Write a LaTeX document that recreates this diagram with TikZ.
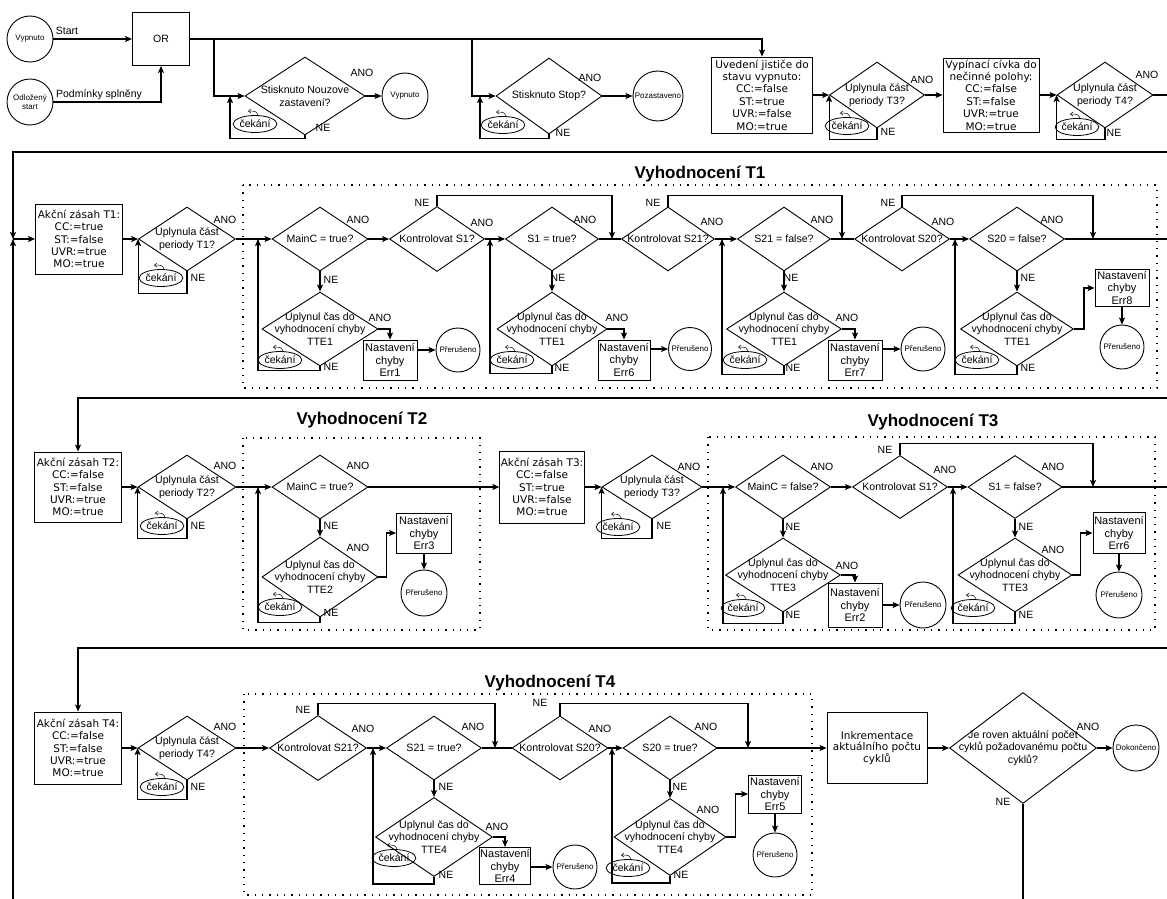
\documentclass[tikz,border=0pt]{standalone}
\usepackage{fontspec}
\setmainfont{Liberation Sans}
\newfontfamily\dvs{DejaVu Sans}
\usetikzlibrary{shapes.geometric,arrows.meta,calc}
\newcommand\Dia[6]{%
  \node[dia, minimum width=#4pt, minimum height=#5pt] (#1) at (#2,#3) {};
  \node[dtxt] (#1-t) at (#1.center) {#6};}
\newcommand\Cek[3]{%
  \node[cek] (#1) at (#2,#3) {čekání};
  \draw[line width=0.5pt, -{Straight Barb[length=2.5pt,width=4pt]}] ($(#1.north)+(3,0)$) .. controls ($(#1.north)+(1,-4)$) .. ($(#1.north)+(-7,-4)$);}
\begin{document}
\begin{tikzpicture}[x=1pt,y=-1pt,
 shp/.style={draw=black, line width=0.9pt},
 arr/.style={draw=black, line width=1.1pt, -{Stealth[length=7pt,width=6pt,inset=1.5pt]}},
 ln/.style={draw=black, line width=1.1pt},
 dia/.style={shp, diamond, inner sep=0pt},
 dtxt/.style={font=\fontsize{10.6}{12.5}\selectfont, align=center, inner sep=0pt},
 box/.style={shp, rectangle, inner sep=1pt, align=center, font=\dvs\fontsize{10.5}{12.4}\selectfont},
 ebox/.style={shp, rectangle, inner sep=1pt, align=center, font=\fontsize{11}{12.5}\selectfont},
 pbox/.style={shp, rectangle, inner sep=1pt, align=center, font=\fontsize{10.5}{12}\selectfont},
 circ/.style={shp, circle, inner sep=0pt, align=center, font=\fontsize{8}{9.5}\selectfont},
 lbl/.style={font=\fontsize{10.5}{12}\selectfont, inner sep=0pt},
 cek/.style={shp, line width=0.8pt, ellipse, minimum width=37pt, minimum height=17pt, inner sep=0pt, font=\fontsize{10.5}{12}\selectfont},
 grp/.style={draw=black, line width=1.3pt, dash pattern=on 1.3pt off 6pt},
 ttl/.style={font=\bfseries\fontsize{17}{20}\selectfont},
]
\useasboundingbox[fill=white] (0,0) rectangle (1167,899);

% ---------------- row 1 ----------------
\node[circ, minimum size=46pt] (vyp1) at (30,39) {Vypnuto};
\node[circ, minimum size=46pt] (odl) at (30,102) {Odložený\\start};
\node[pbox, minimum width=57pt, minimum height=53pt] (or) at (161,39) {OR};
\node[lbl] (lstart) at (67,31) {Start};
\node[lbl] (lpodm) at (99,95) {Podmínky splněny};
\Dia{nouz}{305}{96}{120}{78}{Stisknuto Nouzove\\zastavení?}
\node[lbl] (a_nouz) at (362,73) {ANO};
\node[lbl] (n_nouz) at (323,128) {NE};
\node[circ, minimum size=46pt] (vyp2) at (405,96) {Vypnuto};
\Cek{cek1}{255}{124}
\Dia{stop}{549}{96}{106}{76}{Stisknuto Stop?}
\node[lbl] (a_stop) at (590,78) {ANO};
\node[lbl] (n_stop) at (563,133) {NE};
\node[circ, minimum size=50pt] (poz) at (658,96) {Pozastaveno};
\Cek{cek2}{503}{125}
\node[box, minimum width=101pt, minimum height=76pt] (uved) at (762,95) {Uvedení jističe do\\stavu vypnuto:\\CC:=false\\ST:=true\\UVR:=false\\MO:=true};
\Dia{tt3}{877}{95}{95}{66}{Uplynula část\\periody T3?}
\node[lbl] (a_tt3) at (922,80) {ANO};
\node[lbl] (n_tt3) at (888,132) {NE};
\Cek{cek3}{847}{126}
\node[box, minimum width=96pt, minimum height=74pt] (vypc) at (991,95) {Vypínací cívka do\\nečinné polohy:\\CC:=false\\ST:=false\\UVR:=true\\MO:=true};
\Dia{tt4}{1105}{95}{96}{66}{Uplynula část\\periody T4?}
\node[lbl] (a_tt4) at (1147,75) {ANO};
\node[lbl] (n_tt4) at (1114,133) {NE};
\Cek{cek4}{1077}{127}

\coordinate (j1) at (214,39);
\coordinate (j2) at (472,39);
\coordinate (l1) at (230,96);
\coordinate (l2) at (480,96);
\coordinate (j0) at (13,239);

\draw[arr] (vyp1) -- (or);
\draw[arr] (odl.east) -| (or.south);
\draw[arr] (or.east) -| (uved.north);
\draw[arr] (j1) |- (nouz.west);
\draw[arr] (nouz.east) -- (vyp2.west);
\draw[arr] (nouz.south) -- ++(0,3) -| (l1);
\draw[arr] (j2) |- (stop.west);
\draw[arr] (stop.east) -- (poz.west);
\draw[arr] (stop.south) -- ++(0,4) -| (l2);
\draw[arr] (uved.east) -- (tt3.west);
\draw[arr] (tt3.south) -- ++(0,11) -| (tt3.west);
\draw[arr] (tt3.east) -- (vypc.west);
\draw[arr] (vypc.east) -- (tt4.west);
\draw[arr] (tt4.south) -- ++(0,11) -| (tt4.west);
\draw[arr] (tt4.east) -- (1180,95) |- (13,152) -- (j0);

% ---------------- row 2 ----------------
\node[box, minimum width=87pt, minimum height=70pt] (ak1) at (79,239) {Akční zásah T1:\\CC:=true\\ST:=false\\UVR:=true\\MO:=true};
\Dia{p1}{187}{239}{97}{64}{Uplynula část\\periody T1?}
\node[lbl] (a_p1) at (225,220) {ANO};
\node[lbl] (n_p1) at (198,278) {NE};
\Cek{cek5}{161}{278}
\draw[grp] (243,185) rectangle (1157,388);
\node[ttl] (t1) at (700,174) {Vyhodnocení T1};

\Dia{mc1}{320}{239}{96}{64}{MainC = true?}
\node[lbl] (a_mc1) at (358,220) {ANO};
\node[lbl] (n_mc1) at (331,280) {NE};
\Dia{te1}{320}{329}{116}{74}{Uplynul čas do\\vyhodnocení chyby\\TTE1}
\node[lbl] (a_te1) at (380,318) {ANO};
\node[lbl] (n_te1) at (331,367) {NE};
\node[ebox, minimum width=54pt, minimum height=40pt] (e1) at (390,360) {Nastavení\\chyby\\Err1};
\node[circ, minimum size=44pt] (pr1) at (458,350) {Přerušeno};
\Cek{cek6}{280}{360}

\Dia{ks1}{437}{239}{95}{65}{Kontrolovat S1?}
\node[lbl] (a_ks1) at (482,223) {ANO};
\node[lbl] (n_ks1) at (422,203) {NE};
\Dia{s1t}{552}{239}{93}{64}{S1 = true?}
\node[lbl] (a_s1t) at (585,220) {ANO};
\node[lbl] (n_s1t) at (558,278) {NE};
\Dia{te2}{552}{329}{110}{74}{Uplynul čas do\\vyhodnocení chyby\\TTE1}
\node[lbl] (a_te2) at (617,318) {ANO};
\node[lbl] (n_te2) at (562,368) {NE};
\node[ebox, minimum width=52pt, minimum height=40pt] (e6a) at (624,360) {Nastavení\\chyby\\Err6};
\node[circ, minimum size=43pt] (pr2) at (690,349) {Přerušeno};
\Cek{cek7}{512}{360}

\Dia{ks21}{668}{239}{93}{64}{Kontrolovat S21?}
\node[lbl] (n_ks21) at (653,203) {NE};
\node[lbl] (a_ks21) at (712,222) {ANO};
\Dia{s21f}{784}{239}{93}{64}{S21 = false?}
\node[lbl] (a_s21f) at (822,220) {ANO};
\node[lbl] (n_s21f) at (791,278) {NE};
\Dia{te3}{784}{329}{115}{74}{Uplynul čas do\\vyhodnocení chyby\\TTE1}
\node[lbl] (a_te3) at (847,318) {ANO};
\node[lbl] (n_te3) at (793,368) {NE};
\node[ebox, minimum width=54pt, minimum height=40pt] (e7) at (855,360) {Nastavení\\chyby\\Err7};
\node[circ, minimum size=44pt] (pr3) at (923,349) {Přerušeno};
\Cek{cek8}{745}{360}

\Dia{ks20}{902}{239}{95}{64}{Kontrolovat S20?}
\node[lbl] (n_ks20) at (888,203) {NE};
\node[lbl] (a_ks20) at (943,222) {ANO};
\Dia{s20f}{1017}{239}{95}{64}{S20 = false?}
\node[lbl] (a_s20f) at (1052,220) {ANO};
\node[lbl] (n_s20f) at (1028,278) {NE};
\Dia{te4}{1017}{329}{113}{74}{Uplynul čas do\\vyhodnocení chyby\\TTE1}
\node[lbl] (n_te4) at (1028,368) {NE};
\node[ebox, minimum width=54pt, minimum height=37pt] (e8) at (1122,288) {Nastavení\\chyby\\Err8};
\node[circ, minimum size=44pt] (pr4) at (1122,347) {Přerušeno};
\Cek{cek9}{977}{360}

\coordinate (lp1) at (258,239);
\coordinate (lp2) at (490,239);
\coordinate (lp3) at (722,239);
\coordinate (lp4) at (955,239);
\coordinate (jn1) at (612,239);
\coordinate (jn2) at (842,239);
\coordinate (jn3) at (1093,239);

\draw[arr] (j0) -- (ak1.west);
\draw[arr] (ak1.east) -- (p1.west);
\draw[arr] (p1.south) -- ++(0,22) -| (p1.west);
\draw[arr] (p1.east) -- (mc1.west);
\draw[arr] (mc1.south) -- (te1.north);
\draw[arr] (te1.east) -| (e1.north);
\draw[arr] (e1.east |- pr1.west) -- (pr1.west);
\draw[arr] (te1.south) -- ++(0,4) -| (lp1);
\draw[arr] (mc1.east) -- (ks1.west);
\draw[arr] (ks1.north) -- ++(0,-11) -| (jn1);
\draw[arr] (ks1.east) -- (s1t.west);
\draw[ln] (s1t.east) -- (ks21.west);
\draw[arr] (s1t.south) -- (te2.north);
\draw[arr] (te2.east) -| (e6a.north);
\draw[arr] (e6a.east |- pr2.west) -- (pr2.west);
\draw[arr] (te2.south) -- ++(0,7) -| (lp2);
\draw[arr] (ks21.north) -- ++(0,-11) -| (jn2);
\draw[arr] (ks21.east) -- (s21f.west);
\draw[ln] (s21f.east) -- (ks20.west);
\draw[arr] (s21f.south) -- (te3.north);
\draw[arr] (te3.east) -| (e7.north);
\draw[arr] (e7.east |- pr3.west) -- (pr3.west);
\draw[arr] (te3.south) -- ++(0,8) -| (lp3);
\draw[arr] (ks20.north) -- ++(0,-11) -| (jn3);
\draw[arr] (ks20.east) -- (s20f.west);
\draw[arr] (s20f.south) -- (te4.north);
\draw[arr] (te4.east) -- ++(10,0) |- (e8.west);
\draw[arr] (e8.south) -- (pr4.north);
\draw[arr] (te4.south) -- ++(0,8) -| (lp4);

% ---------------- row 3 ----------------
\node[box, minimum width=87pt, minimum height=70pt] (ak2) at (78,487) {Akční zásah T2:\\CC:=false\\ST:=false\\UVR:=true\\MO:=true};
\Dia{p2}{187}{487}{98}{64}{Uplynula část\\periody T2?}
\node[lbl] (a_p2) at (225,466) {ANO};
\node[lbl] (n_p2) at (198,526) {NE};
\Cek{cek10}{162}{526}
\draw[grp] (243,438) rectangle (480,630);
\node[ttl] (t2) at (362,420) {Vyhodnocení T2};
\Dia{mc2}{320}{487}{96}{64}{MainC = true?}
\node[lbl] (a_mc2) at (358,466) {ANO};
\node[lbl] (n_mc2) at (331,526) {NE};
\Dia{tf2}{320}{577}{116}{80}{Uplynul čas do\\vyhodnocení chyby\\TTE2}
\node[lbl] (a_tf2) at (358,548) {ANO};
\node[lbl] (n_tf2) at (331,613) {NE};
\node[ebox, minimum width=55pt, minimum height=40pt] (e3) at (424,533) {Nastavení\\chyby\\Err3};
\node[circ, minimum size=46pt] (pr5) at (424,593) {Přerušeno};
\Cek{cek11}{280}{607}

\node[box, minimum width=84pt, minimum height=72pt] (ak3) at (542,487) {Akční zásah T3:\\CC:=false\\ST:=true\\UVR:=false\\MO:=true};
\Dia{p3}{652}{487}{100}{64}{Uplynula část\\periody T3?}
\node[lbl] (a_p3) at (689,467) {ANO};
\node[lbl] (n_p3) at (664,526) {NE};
\Cek{cek12}{618}{527}
\draw[grp] (708,437) rectangle (1155,630);
\node[ttl] (t3) at (933,422) {Vyhodnocení T3};
\Dia{mc3}{783}{487}{95}{64}{MainC = false?}
\node[lbl] (a_mc3) at (822,467) {ANO};
\node[lbl] (n_mc3) at (793,527) {NE};
\Dia{tf3a}{783}{575}{115}{74}{Uplynul čas do\\vyhodnocení chyby\\TTE3}
\node[lbl] (a_tf3a) at (847,566) {ANO};
\node[lbl] (n_tf3a) at (793,615) {NE};
\node[ebox, minimum width=54pt, minimum height=44pt] (e2) at (855,605) {Nastavení\\chyby\\Err2};
\node[circ, minimum size=46pt] (pr6) at (923,605) {Přerušeno};
\Cek{cek13}{743}{608}
\Dia{ks1b}{900}{487}{95}{63}{Kontrolovat S1?}
\node[lbl] (n_ks1b) at (885,450) {NE};
\node[lbl] (a_ks1b) at (945,470) {ANO};
\Dia{s1f}{1015}{487}{94}{63}{S1 = false?}
\node[lbl] (a_s1f) at (1053,467) {ANO};
\node[lbl] (n_s1f) at (1026,527) {NE};
\Dia{tf3b}{1015}{575}{114}{74}{Uplynul čas do\\vyhodnocení chyby\\TTE3}
\node[lbl] (a_tf3b) at (1053,550) {ANO};
\node[lbl] (n_tf3b) at (1026,615) {NE};
\node[ebox, minimum width=52pt, minimum height=41pt] (e6b) at (1119,533) {Nastavení\\chyby\\Err6};
\node[circ, minimum size=46pt] (pr7) at (1119,595) {Přerušeno};
\Cek{cek14}{973}{608}

\coordinate (lp5) at (258,487);
\coordinate (lp6) at (723,487);
\coordinate (lp7) at (953,487);
\coordinate (jn4) at (1093,487);

\draw[arr] (s20f.east) -- (1180,239) |- (78,398) -- (ak2.north);
\draw[arr] (ak2.east) -- (p2.west);
\draw[arr] (p2.south) -- ++(0,19) -| (p2.west);
\draw[arr] (p2.east) -- (mc2.west);
\draw[arr] (mc2.east) -- (ak3.west);
\draw[arr] (mc2.south) -- (tf2.north);
\draw[arr] (tf2.east) -- ++(8,0) |- (e3.west);
\draw[arr] (e3.south) -- (pr5.north);
\draw[arr] (tf2.south) -- ++(0,5) -| (lp5);
\draw[arr] (ak3.east) -- (p3.west);
\draw[arr] (p3.south) -- ++(0,19) -| (p3.west);
\draw[arr] (p3.east) -- (mc3.west);
\draw[arr] (mc3.south) -- (tf3a.north);
\draw[arr] (tf3a.east) -| (e2.north);
\draw[arr] (e2.east) -- (pr6.west);
\draw[arr] (tf3a.south) -- ++(0,11) -| (lp6);
\draw[arr] (mc3.east) -- (ks1b.west);
\draw[arr] (ks1b.north) -- ++(0,-12) -| (jn4);
\draw[arr] (ks1b.east) -- (s1f.west);
\draw[arr] (s1f.south) -- (tf3b.north);
\draw[arr] (tf3b.east) -- ++(8,0) |- (e6b.west);
\draw[arr] (e6b.south) -- (pr7.north);
\draw[arr] (tf3b.south) -- ++(0,11) -| (lp7);

% ---------------- row 4 ----------------
\node[box, minimum width=87pt, minimum height=72pt] (ak4) at (78,748) {Akční zásah T4:\\CC:=false\\ST:=false\\UVR:=true\\MO:=true};
\Dia{p4}{187}{748}{98}{64}{Uplynula část\\periody T4?}
\node[lbl] (a_p4) at (225,727) {ANO};
\node[lbl] (n_p4) at (198,787) {NE};
\Cek{cek15}{162}{787}
\draw[grp] (244,694) rectangle (812,895);
\node[ttl] (t4) at (550,683) {Vyhodnocení T4};
\Dia{ks21b}{318}{748}{97}{65}{Kontrolovat S21?}
\node[lbl] (n_ks21b) at (303,710) {NE};
\node[lbl] (a_ks21b) at (363,729) {ANO};
\Dia{s21t}{434}{748}{95}{64}{S21 = true?}
\node[lbl] (a_s21t) at (473,727) {ANO};
\node[lbl] (n_s21t) at (446,787) {NE};
\Dia{tf4a}{434}{837}{117}{79}{Uplynul čas do\\vyhodnocení chyby\\TTE4}
\node[lbl] (a_tf4a) at (497,827) {ANO};
\node[lbl] (n_tf4a) at (446,875) {NE};
\node[ebox, minimum width=51pt, minimum height=37pt] (e4) at (505,866) {Nastavení\\chyby\\Err4};
\node[circ, minimum size=44pt] (pr8) at (575,867) {Přerušeno};
\Cek{cek16}{394}{858}
\Dia{ks20b}{560}{748}{96}{64}{Kontrolovat S20?}
\node[lbl] (n_ks20b) at (540,703) {NE};
\node[lbl] (a_ks20b) at (600,729) {ANO};
\Dia{s20t}{670}{748}{94}{64}{S20 = true?}
\node[lbl] (a_s20t) at (706,727) {ANO};
\node[lbl] (n_s20t) at (680,787) {NE};
\Dia{tf4b}{670}{837}{112}{77}{Uplynul čas do\\vyhodnocení chyby\\TTE4}
\node[lbl] (a_tf4b) at (708,810) {ANO};
\node[lbl] (n_tf4b) at (681,875) {NE};
\node[ebox, minimum width=53pt, minimum height=38pt] (e5) at (775,794) {Nastavení\\chyby\\Err5};
\node[circ, minimum size=44pt] (pr9) at (775,855) {Přerušeno};
\Cek{cek17}{628}{868}
\node[box, minimum width=100pt, minimum height=71pt, font=\dvs\fontsize{10.5}{11.8}\selectfont] (ink) at (877,748) {Inkrementace\\aktuálního počtu\\cyklů};
\Dia{jer}{1023}{748}{147}{111}{Je roven aktuální počet\\cyklů požadovanému počtu\\cyklů?}
\node[lbl] (a_jer) at (1088,727) {ANO};
\node[lbl] (n_jer) at (1003,802) {NE};
\node[circ, minimum size=46pt] (dok) at (1136,748) {Dokončeno};

\coordinate (lp8) at (373,748);
\coordinate (lp9) at (612,748);
\coordinate (jn5) at (495,748);
\coordinate (jn6) at (748,748);

\draw[arr] (s1f.east) -- (1180,487) |- (78,648) -- (ak4.north);
\draw[arr] (ak4.east) -- (p4.west);
\draw[arr] (p4.south) -- ++(0,19) -| (p4.west);
\draw[arr] (p4.east) -- (ks21b.west);
\draw[arr] (ks21b.north) -- ++(0,-12) -| (jn5);
\draw[arr] (ks21b.east) -- (s21t.west);
\draw[ln] (s21t.east) -- (ks20b.west);
\draw[arr] (s21t.south) -- (tf4a.north);
\draw[arr] (tf4a.east) -| (e4.north);
\draw[arr] (e4.east |- pr8.west) -- (pr8.west);
\draw[arr] (tf4a.south) -- ++(0,7) -| (lp8);
\draw[arr] (ks20b.north) -- ++(0,-12) -| (jn6);
\draw[arr] (ks20b.east) -- (s20t.west);
\draw[arr] (s20t.east) -- (ink.west);
\draw[arr] (s20t.south) -- (tf4b.north);
\draw[arr] (tf4b.east) -- ++(9,0) |- (e5.west);
\draw[arr] (e5.south) -- (pr9.north);
\draw[arr] (tf4b.south) -- ++(0,7) -| (lp9);
\draw[arr] (ink.east) -- (jer.west);
\draw[arr] (jer.east) -- (dok.west);
\draw[arr] (jer.south) -- (1023,910) -| (j0);
\end{tikzpicture}
\end{document}
